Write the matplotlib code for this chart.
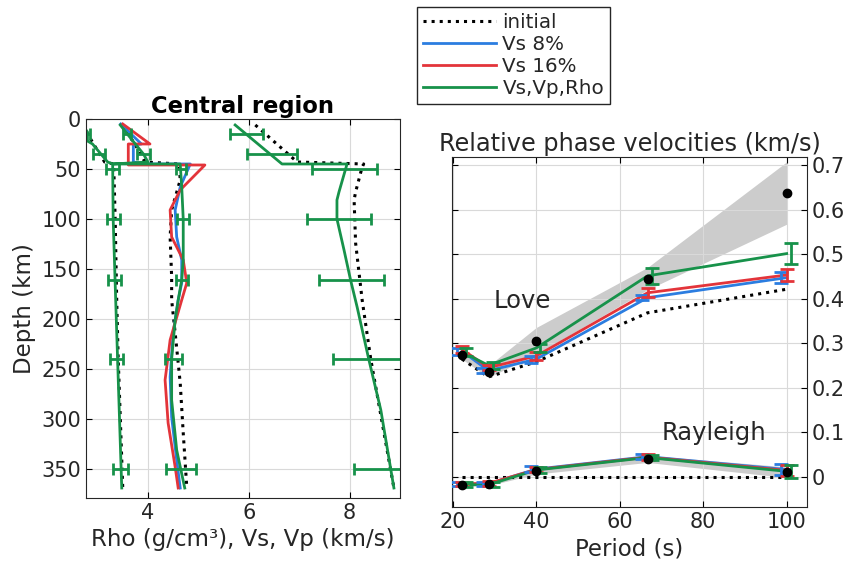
import numpy as np
import matplotlib.pyplot as plt
from matplotlib.lines import Line2D

plt.rcParams['font.family'] = 'DejaVu Sans'
plt.rcParams['font.size'] = 15
plt.rcParams['xtick.direction'] = 'in'
plt.rcParams['ytick.direction'] = 'in'
plt.rcParams['text.color'] = '#262626'
plt.rcParams['axes.labelcolor'] = '#262626'
plt.rcParams['xtick.labelcolor'] = '#262626'
plt.rcParams['ytick.labelcolor'] = '#262626'
plt.rcParams['axes.edgecolor'] = '#262626'

# colours
c_init = 'black'
c_vs8 = '#2b7de0'
c_vs16 = '#e3343a'
c_all = '#17924a'

# ---- depth profiles (left panel) ----
rho_init_d = [6, 25, 43, 45, 100, 181, 240, 369]
rho_init = [2.70, 2.92, 3.14, 3.32, 3.35, 3.38, 3.41, 3.50]
rho_all_d = [6, 13, 22, 25, 43, 45, 100, 181, 369]
rho_all = [2.70, 2.80, 2.80, 2.90, 3.20, 3.30, 3.31, 3.36, 3.48]

vs_init_d = [6, 25, 43, 45, 61, 91, 118, 158, 181, 214, 264, 314, 368]
vs_init = [3.48, 3.74, 3.94, 4.62, 4.64, 4.47, 4.44, 4.47, 4.47, 4.54, 4.64, 4.70, 4.77]
vs8_d = [5, 25, 26, 43, 45, 45, 68, 91, 118, 141, 164, 181, 214, 258, 298, 341, 369]
vs8 = [3.46, 3.87, 3.71, 3.71, 3.97, 4.84, 4.64, 4.54, 4.57, 4.67, 4.67, 4.60, 4.50, 4.44, 4.47, 4.57, 4.64]
vs16_d = [5, 25, 25, 46, 46, 71, 91, 118, 141, 164, 181, 221, 261, 304, 348, 369]
vs16 = [3.50, 4.04, 3.61, 3.61, 5.13, 4.64, 4.44, 4.47, 4.70, 4.77, 4.67, 4.44, 4.34, 4.40, 4.54, 4.60]
vs_all_d = [6, 15, 35, 43, 45, 45, 68, 100, 141, 161, 181, 201, 240, 281, 331, 369]
vs_all = [3.45, 3.59, 3.91, 4.00, 3.30, 4.64, 4.67, 4.70, 4.70, 4.67, 4.60, 4.54, 4.47, 4.47, 4.57, 4.73]

vp_init_d = [6, 43, 45, 48, 73, 81, 124, 181, 240, 369]
vp_init = [6.13, 6.96, 8.28, 8.25, 8.12, 8.09, 8.12, 8.25, 8.42, 8.88]
vp_all_d = [6, 45, 45, 73, 81, 100, 131, 161, 188, 240, 291, 369]
vp_all = [5.73, 6.66, 7.95, 7.79, 7.75, 7.75, 7.89, 8.02, 8.15, 8.38, 8.62, 8.88]

# uncertainties of the Vs,Vp,Rho inversion
eb_depth = [15, 35, 50, 100, 161, 240, 350]
rho_eb = [2.75, 3.03, 3.30, 3.31, 3.34, 3.38, 3.46]
rho_eb_err = [0.10, 0.12, 0.13, 0.13, 0.13, 0.13, 0.15]
vs_eb = [3.59, 3.91, 4.65, 4.69, 4.68, 4.50, 4.66]
vs_eb_err = [0.08, 0.13, 0.10, 0.12, 0.12, 0.17, 0.30]
vp_eb = [5.96, 6.46, 7.90, 7.79, 8.04, 8.38, 8.78]
vp_eb_err = [0.33, 0.50, 0.65, 0.63, 0.65, 0.70, 0.70]

# ---- phase velocities (right panel) ----
periods = [22.22, 28.57, 40.0, 66.67, 100.0]

love_obs = [0.274, 0.236, 0.305, 0.445, 0.637]
love_obs_err = [0.010, 0.013, 0.030, 0.025, 0.070]
love_init = [0.264, 0.224, 0.258, 0.368, 0.421]
love_vs8 = [0.282, 0.238, 0.264, 0.402, 0.447]
love_vs16 = [0.286, 0.245, 0.271, 0.413, 0.453]
love_all = [0.280, 0.250, 0.289, 0.451, 0.501]
love_vs8_err = [0.008, 0.006, 0.008, 0.006, 0.012]
love_vs16_err = [0.008, 0.006, 0.008, 0.010, 0.013]
love_all_err = [0.008, 0.008, 0.010, 0.018, 0.023]

rayl_obs = [-0.018, -0.016, 0.012, 0.040, 0.010]
rayl_obs_err = [0.004, 0.004, 0.006, 0.008, 0.012]
rayl_init = [0.0, 0.0, 0.0, 0.0, 0.0]
rayl_vs8 = [-0.017, -0.016, 0.017, 0.045, 0.016]
rayl_vs16 = [-0.016, -0.015, 0.016, 0.044, 0.014]
rayl_all = [-0.018, -0.018, 0.015, 0.043, 0.012]
rayl_vs8_err = [0.005, 0.005, 0.006, 0.006, 0.013]
rayl_vs16_err = [0.005, 0.005, 0.006, 0.006, 0.013]
rayl_all_err = [0.005, 0.005, 0.006, 0.006, 0.014]

fig = plt.figure(figsize=(8.57, 5.61), dpi=100)

lw = 2.0

# left panel
ax1 = fig.add_axes([0.1003, 0.1123, 0.3664, 0.6756])
ax1.plot(rho_init, rho_init_d, ':', color=c_init, lw=2.2)
ax1.plot(vs_init, vs_init_d, ':', color=c_init, lw=2.2)
ax1.plot(vp_init, vp_init_d, ':', color=c_init, lw=2.2)
ax1.plot(vs8, vs8_d, '-', color=c_vs8, lw=lw)
ax1.plot(vs16, vs16_d, '-', color=c_vs16, lw=lw)
ax1.plot(rho_all, rho_all_d, '-', color=c_all, lw=lw)
ax1.plot(vs_all, vs_all_d, '-', color=c_all, lw=lw)
ax1.plot(vp_all, vp_all_d, '-', color=c_all, lw=lw)
for c, e in [(rho_eb, rho_eb_err), (vs_eb, vs_eb_err), (vp_eb, vp_eb_err)]:
    ax1.errorbar(c, eb_depth, xerr=e, fmt='none', ecolor=c_all,
                 elinewidth=2, capsize=4.5, capthick=2)

ax1.set_xlim(2.77, 9.0)
ax1.set_ylim(379, 0)
ax1.set_xticks([4, 6, 8])
ax1.set_yticks(np.arange(0, 351, 50))
ax1.grid(True, color='#d9d9d9', lw=0.8)
ax1.tick_params(top=True, right=True, length=4, labelsize=15)
ax1.set_xlabel('Rho (g/cm³), Vs, Vp (km/s)', fontsize=16.5)
ax1.set_ylabel('Depth (km)', fontsize=16.5)
ax1.set_title('Central region', fontsize=16.3, fontweight='bold', pad=4,
              color='black')

# right panel
ax2 = fig.add_axes([0.5278, 0.0963, 0.4135, 0.6239])
lo = np.array(love_obs)
le = np.array(love_obs_err)
ro = np.array(rayl_obs)
re = np.array(rayl_obs_err)
ax2.fill_between(periods, lo - le, lo + le, color='#cccccc', lw=0, zorder=1)
ax2.fill_between(periods, ro - re, ro + re, color='#cccccc', lw=0, zorder=1)

T = np.array(periods)
for init, v8, v16, va, e8, e16, ea in [
        (love_init, love_vs8, love_vs16, love_all, love_vs8_err, love_vs16_err, love_all_err),
        (rayl_init, rayl_vs8, rayl_vs16, rayl_all, rayl_vs8_err, rayl_vs16_err, rayl_all_err)]:
    ax2.plot(T, init, ':', color=c_init, lw=2.2, zorder=2)
    ax2.plot(T, v8, '-', color=c_vs8, lw=lw, zorder=3)
    ax2.plot(T, v16, '-', color=c_vs16, lw=lw, zorder=3)
    ax2.plot(T, va, '-', color=c_all, lw=lw, zorder=3)
    ax2.errorbar(T - 1.3, v8, yerr=e8, fmt='none', ecolor=c_vs8,
                 elinewidth=2, capsize=5, capthick=2, zorder=3)
    ax2.errorbar(T, v16, yerr=e16, fmt='none', ecolor=c_vs16,
                 elinewidth=2, capsize=5, capthick=2, zorder=3)
    ax2.errorbar(T + 1.0, va, yerr=ea, fmt='none', ecolor=c_all,
                 elinewidth=2, capsize=5, capthick=2, zorder=3)

ax2.plot(T, love_obs, 'o', color='k', ms=6, zorder=5)
ax2.plot(T, rayl_obs, 'o', color='k', ms=6, zorder=5)

ax2.text(36.6, 0.395, 'Love', fontsize=17.5, ha='center', va='center')
ax2.text(82.6, 0.099, 'Rayleigh', fontsize=17.5, ha='center', va='center')

ax2.set_xlim(19.9, 104.8)
ax2.set_ylim(-0.068, 0.718)
ax2.set_xticks([20, 40, 60, 80, 100])
ax2.set_yticks([0, 0.1, 0.2, 0.3, 0.4, 0.5, 0.6, 0.7])
ax2.set_yticklabels(['0', '0.1', '0.2', '0.3', '0.4', '0.5', '0.6', '0.7'])
ax2.yaxis.tick_right()
ax2.grid(True, color='#d9d9d9', lw=0.8)
ax2.tick_params(top=True, left=True, right=True, length=4, labelsize=15)
ax2.set_xlabel('Period (s)', fontsize=16.5)
ax2.set_title('Relative phase velocities (km/s)', fontsize=17.3, pad=4)

# legend
handles = [Line2D([], [], ls=':', color=c_init, lw=2.2),
           Line2D([], [], color=c_vs8, lw=lw),
           Line2D([], [], color=c_vs16, lw=lw),
           Line2D([], [], color=c_all, lw=lw)]
labels = ['initial', 'Vs 8%', 'Vs 16%', 'Vs,Vp,Rho']
leg = fig.legend(handles, labels, loc='upper left',
                 bbox_to_anchor=(417 / 857, 1 - 7 / 561), fontsize=14.3,
                 handlelength=3.7, labelspacing=0.15, handletextpad=0.3,
                 borderpad=0.3, borderaxespad=0, fancybox=False,
                 edgecolor='#262626', framealpha=1)
leg.get_frame().set_linewidth(1.0)

fig.savefig('out.png', dpi=100)
